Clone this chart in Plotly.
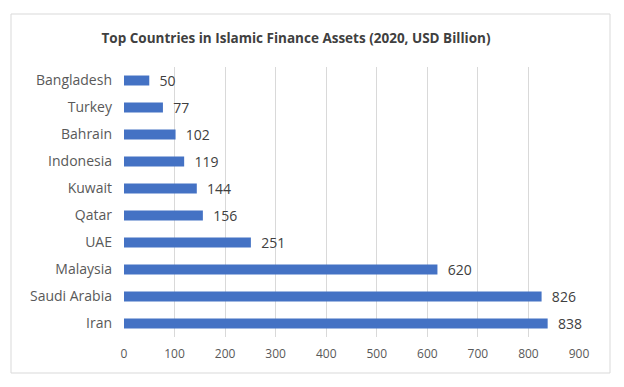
import plotly.graph_objects as go

countries = ["Iran", "Saudi Arabia", "Malaysia", "UAE", "Qatar", "Kuwait",
             "Indonesia", "Bahrain", "Turkey", "Bangladesh"]
assets = [838, 826, 620, 251, 156, 144, 119, 102, 77, 50]
x_ticks = [0, 100, 200, 300, 400, 500, 600, 700, 800, 900]

OFF = 8  # page body margin
W, H = 608, 371
# target page pixel coordinates
PL, PR, PT, PB = 124, 579, 67, 337
L, T = PL - OFF, PT - OFF
R = W - (PR - OFF)
B = H - (PB - OFF)
pw, ph = W - L - R, H - T - B

def px_x(p):
    return (p - OFF - L) / pw

def px_y(p):
    return (PB - p) / ph

fig = go.Figure(go.Bar(
    x=assets, y=countries, orientation="h",
    marker=dict(color="#4472C4", line=dict(width=0)),
    width=0.37,
    text=["  " + str(v) for v in assets], textposition="outside",
    textfont=dict(size=14, color="#404040", family="Open Sans"),
    constraintext="none",
    cliponaxis=False,
))

fig.update_layout(
    width=W, height=H,
    margin=dict(l=L, r=R, t=T, b=B, autoexpand=False),
    paper_bgcolor="white", plot_bgcolor="white",
    font=dict(family="Open Sans", color="#595959"),
    title=dict(text="<b>Top Countries in Islamic Finance Assets (2020, USD Billion)</b>",
               x=(296 - OFF) / W, xanchor="center",
               y=1 - (38 - OFF) / H, yanchor="middle",
               font=dict(size=13.5, color="#404040", family="Open Sans")),
    xaxis=dict(range=[0, 900], tickvals=x_ticks, showgrid=True, gridcolor="#d9d9d9",
               gridwidth=1, zeroline=False, showline=False, ticks="",
               ticklabelstandoff=8,
               tickfont=dict(size=12, color="#595959"), fixedrange=True),
    yaxis=dict(categoryorder="array", categoryarray=countries, showgrid=False,
               showline=False, ticks="", ticklabelstandoff=11,
               tickfont=dict(size=14, color="#595959"), range=[-0.5, 9.5]),
    showlegend=False,
    shapes=[dict(type="rect", xref="paper", yref="paper",
                 x0=px_x(11), x1=px_x(610), y0=px_y(373), y1=px_y(14),
                 line=dict(color="#d9d9d9", width=1), fillcolor="rgba(0,0,0,0)",
                 layer="below")],
)

fig.write_html("out.html")
